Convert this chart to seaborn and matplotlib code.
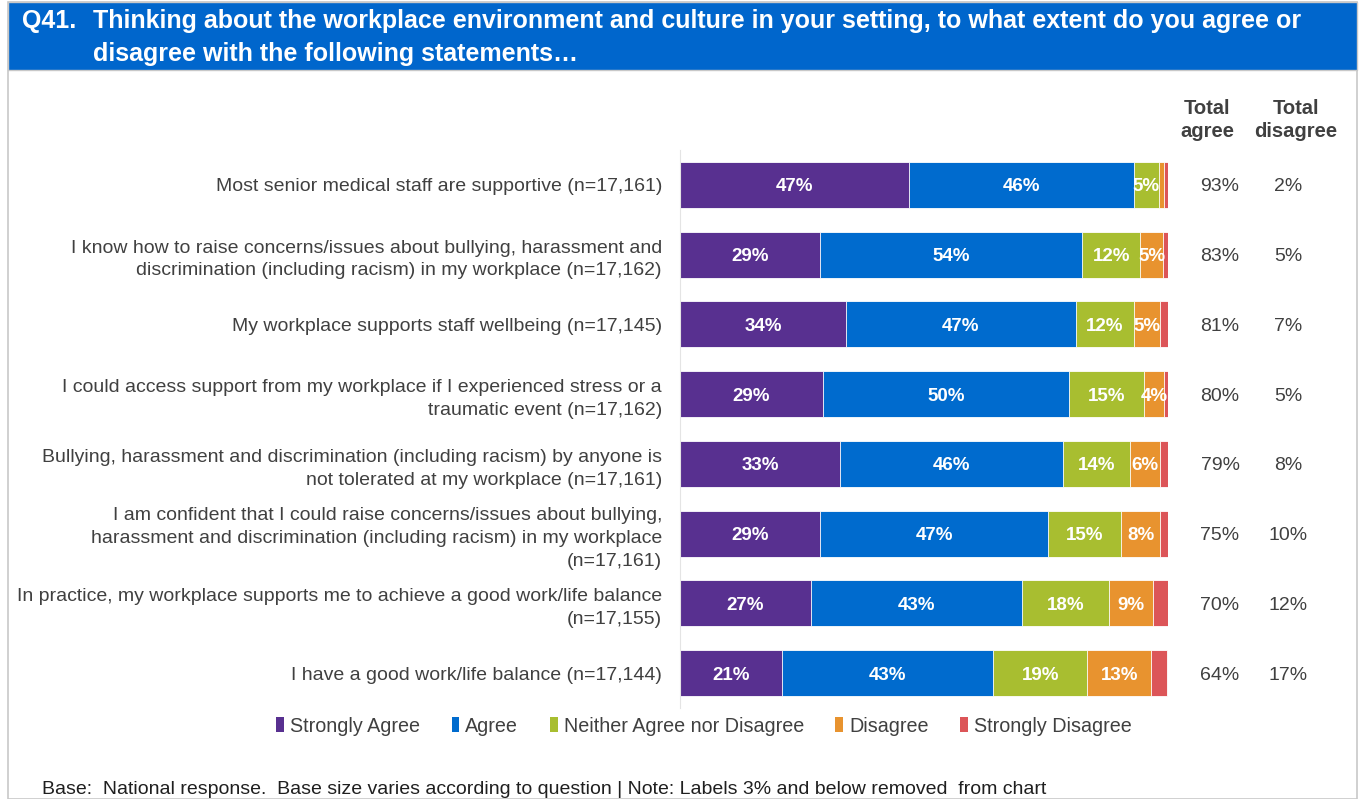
import matplotlib
matplotlib.use("Agg")
import matplotlib.pyplot as plt
import matplotlib.transforms as mtransforms
from matplotlib.patches import Rectangle, Patch
import numpy as np
import pandas as pd
import seaborn as sns

sns.set_theme(style="white")
plt.rcParams['font.family'] = ['Liberation Sans', 'DejaVu Sans']

statements = [
    "Most senior medical staff are supportive (n=17,161)",
    "I know how to raise concerns/issues about bullying, harassment and\ndiscrimination (including racism) in my workplace (n=17,162)",
    "My workplace supports staff wellbeing (n=17,145)",
    "I could access support from my workplace if I experienced stress or a\ntraumatic event (n=17,162)",
    "Bullying, harassment and discrimination (including racism) by anyone is\nnot tolerated at my workplace (n=17,161)",
    "I am confident that I could raise concerns/issues about bullying,\nharassment and discrimination (including racism) in my workplace\n(n=17,161)",
    "In practice, my workplace supports me to achieve a good work/life balance\n(n=17,155)",
    "I have a good work/life balance (n=17,144)",
]
categories = ["Strongly Agree", "Agree", "Neither Agree nor Disagree", "Disagree", "Strongly Disagree"]
strongly_agree = [46.9, 28.7, 34.0, 29.3, 32.8, 28.7, 26.8, 21.0]
agree = [46.1, 53.7, 47.1, 50.4, 45.7, 46.7, 43.2, 43.2]
neither = [5.1, 11.9, 11.9, 15.4, 13.7, 15.0, 18.0, 19.3]
disagree = [1.0, 4.7, 5.3, 4.1, 6.1, 8.0, 9.0, 13.1]
strongly_disagree = [0.9, 1.0, 1.6, 0.8, 1.6, 1.6, 2.9, 3.1]
total_agree = ["93%", "83%", "81%", "80%", "79%", "75%", "70%", "64%"]
total_disagree = ["2%", "5%", "7%", "5%", "8%", "10%", "12%", "17%"]

colors = ["#583090", "#006BCE", "#A8BE30", "#E8932F", "#DC5558"]
text_grey = "#404040"

W, H = 1363, 799
fig = plt.figure(figsize=(W / 100, H / 100), dpi=100)
fig.patch.set_facecolor("white")

# Panel border and title banner
fig.patches.append(Rectangle((8 / W, 0), 1349 / W, 1 - 2 / H, transform=fig.transFigure,
                             fill=False, edgecolor="#C8C8C8", linewidth=1.2, zorder=0))
fig.patches.append(Rectangle((8 / W, 1 - 70 / H), 1349 / W, 68 / H, transform=fig.transFigure,
                             facecolor="#0066CC", edgecolor="#C8C8C8", linewidth=1.0, zorder=1))
fig.text(22 / W, 1 - 21 / H, "Q41.", color="white", fontsize=18, fontweight="bold", va="center", ha="left")
fig.text(93 / W, 1 - 21 / H,
         "Thinking about the workplace environment and culture in your setting, to what extent do you agree or",
         color="white", fontsize=18, fontweight="bold", va="center", ha="left")
fig.text(93 / W, 1 - 54 / H, "disagree with the following statements\u2026",
         color="white", fontsize=18, fontweight="bold", va="center", ha="left")

ax = fig.add_axes([680 / W, 1 - 708 / H, 488 / W, 558 / H])

vals = np.array([strongly_agree, agree, neither, disagree, strongly_disagree])
cum = np.cumsum(vals, axis=0)
df = pd.DataFrame({"statement": statements})
for k in reversed(range(5)):
    df["v"] = cum[k]
    sns.barplot(data=df, x="v", y="statement", orient="h", color=colors[k],
                width=0.66, saturation=1, edgecolor="white", linewidth=0.6, ax=ax)

for k in range(5):
    for i in range(len(statements)):
        v = vals[k][i]
        if round(v) > 3:
            ax.text(cum[k][i] - v / 2, i, f"{round(v)}%", ha="center", va="center_baseline",
                    color="white", fontsize=13.5, fontweight="bold")

ax.set_xlim(0, 100)
ax.set_ylim(7.5, -0.5)
ax.set_xlabel("")
ax.set_ylabel("")
ax.set_xticks([])
ax.tick_params(axis="y", length=0, pad=13, labelsize=14, labelcolor=text_grey)
for lbl in ax.get_yticklabels():
    lbl.set_linespacing(1.45)
for s in ["top", "right", "bottom"]:
    ax.spines[s].set_visible(False)
ax.spines["left"].set_color("#E4E4E4")
ax.spines["left"].set_linewidth(0.8)

trans = mtransforms.blended_transform_factory(fig.transFigure, ax.transData)
for i in range(len(statements)):
    ax.text(1220 / W, i, total_agree[i], transform=trans, ha="center", va="center_baseline",
            fontsize=14, color=text_grey)
    ax.text(1288 / W, i, total_disagree[i], transform=trans, ha="center", va="center_baseline",
            fontsize=14, color=text_grey)

fig.text(1207 / W, 1 - 120 / H, "Total\nagree", ha="center", va="center", fontsize=14.5,
         fontweight="bold", color=text_grey, linespacing=1.25)
fig.text(1296 / W, 1 - 120 / H, "Total\ndisagree", ha="center", va="center", fontsize=14.5,
         fontweight="bold", color=text_grey, linespacing=1.25)

handles = [Patch(facecolor=c, edgecolor="none") for c in colors]
fig.legend(handles, categories, loc="center", bbox_to_anchor=(704 / W, 1 - 726 / H), ncol=5,
           frameon=False, fontsize=14.2, handlelength=0.4, handleheight=0.75,
           handletextpad=0.3, columnspacing=1.6, labelcolor=text_grey)

fig.text(42 / W, 1 - 789 / H,
         "Base:  National response.  Base size varies according to question | Note: Labels 3% and below removed  from chart",
         ha="left", va="center", fontsize=14.0, color="#1F1F1F")

fig.savefig("out.png", dpi=100, facecolor="white")
